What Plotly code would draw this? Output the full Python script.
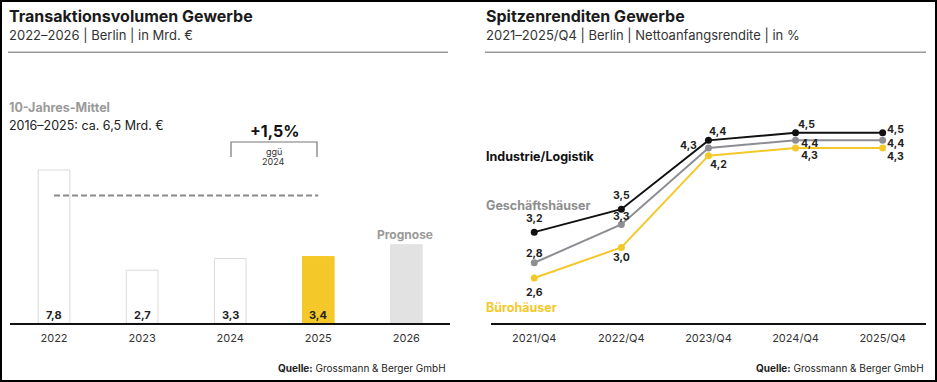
import plotly.graph_objects as go

W, H = 937, 382

# ---- Left chart data: Transaktionsvolumen Gewerbe (Mrd. €)
years = ["2022", "2023", "2024", "2025", "2026"]
volumes = [7.8, 2.7, 3.3, 3.4, 4.0]
volume_labels = ["7,8", "2,7", "3,3", "3,4", ""]
ten_year_avg = 6.5
avg_span = ["2022", "2025"]

# ---- Right chart data: Spitzenrenditen Gewerbe (%)
quarters = ["2021/Q4", "2022/Q4", "2023/Q4", "2024/Q4", "2025/Q4"]
industrie = [3.2, 3.5, 4.4, 4.5, 4.5]
geschaeft = [2.8, 3.3, 4.3, 4.4, 4.4]
buero = [2.6, 3.0, 4.2, 4.3, 4.3]
industrie_labels = ["3,2", "3,5", "4,4", "4,5", "4,5"]
geschaeft_labels = ["2,8", "3,3", "4,3", "4,4", "4,4"]
buero_labels = ["2,6", "3,0", "4,2", "4,3", "4,3"]

FONT = "Inter, Roboto, 'DejaVu Sans', sans-serif"
YELLOW = "#F5C82A"
GREY_LINE = "#8d8d94"
BLACK = "#111111"


def px(x):
    return x / W


def py(y):
    return 1 - y / H


fig = go.Figure()

# Bars
bar_fill = ["#ffffff", "#ffffff", "#ffffff", YELLOW, "#e3e2e2"]
bar_line = ["#dadada", "#dadada", "#dadada", YELLOW, "#e3e2e2"]
fig.add_trace(go.Bar(
    x=years, y=volumes, width=0.36,
    marker=dict(color=bar_fill, line=dict(color=bar_line, width=1)),
    xaxis="x", yaxis="y", hoverinfo="skip",
))
# 10-year average dashed line
fig.add_trace(go.Scatter(
    x=avg_span, y=[ten_year_avg, ten_year_avg], mode="lines",
    line=dict(color="#8a8a8a", width=2, dash="6px,3px"),
    xaxis="x", yaxis="y", hoverinfo="skip",
))

# Lines
series = [
    (buero, buero_labels, YELLOW),
    (geschaeft, geschaeft_labels, GREY_LINE),
    (industrie, industrie_labels, BLACK),
]
for vals, _, col in series:
    fig.add_trace(go.Scatter(
        x=quarters, y=vals, mode="lines+markers",
        line=dict(color=col, width=2),
        marker=dict(color=col, size=7),
        xaxis="x2", yaxis="y2", hoverinfo="skip",
    ))

ann = []
# bar value labels (category index positions)
for i, lab in enumerate(volume_labels):
    if lab:
        ann.append(dict(x=i, y=0, xref="x", yref="y", text=f"<b>{lab}</b>",
                        showarrow=False, yanchor="bottom", yshift=-1,
                        font=dict(size=11, color="#222")))

# line point label offsets (dx, dy) in pixels (dy positive = down)
offsets = {
    "ind": [(0, -14), (0, -14), (9, -9), (11, -8), (13, -3)],
    "ges": [(0, -9), (0, -8), (-20, -3), (14, 3), (13, 3)],
    "bue": [(0, 14), (0, 10), (10, 9), (14, 7), (13, 8)],
}
for key, vals, labs in [("ind", industrie, industrie_labels),
                        ("ges", geschaeft, geschaeft_labels),
                        ("bue", buero, buero_labels)]:
    for i, (v, lab, (dx, dy)) in enumerate(zip(vals, labs, offsets[key])):
        ann.append(dict(x=i, y=v, xref="x2", yref="y2", text=f"<b>{lab}</b>",
                        showarrow=False, xshift=dx, yshift=-dy,
                        font=dict(size=10.5, color="#222")))


def txt(x, y, text, size, color="#1a1a1a", xanchor="left"):
    ann.append(dict(x=px(x), y=py(y), xref="paper", yref="paper", text=text,
                    showarrow=False, xanchor=xanchor, yanchor="middle",
                    font=dict(size=size, color=color)))


# Titles
txt(7, 16, "<b>Transaktionsvolumen Gewerbe</b>", 16)
txt(7, 35, "2022–2026 | Berlin | in Mrd. €", 13, "#333")
txt(484, 16, "<b>Spitzenrenditen Gewerbe</b>", 16)
txt(484, 35, "2021–2025/Q4 | Berlin | Nettoanfangsrendite | in %", 13, "#333")

# left annotations
txt(7, 107, "<b>10-Jahres-Mittel</b>", 12.5, "#9a9a9a")
txt(7, 126, "2016–2025: ca. 6,5 Mrd. €", 12.5, "#222")
txt(274.5, 131, "<b>+1,5%</b>", 16, "#111", "center")
txt(273.5, 151.5, "ggü", 9, "#333", "center")
txt(273.5, 161, "2024", 9, "#333", "center")
txt(405, 234, "<b>Prognose</b>", 12, "#9a9a9a", "center")

# right series labels
txt(484, 156, "<b>Industrie/Logistik</b>", 12.5, "#111")
txt(484, 206, "<b>Geschäftshäuser</b>", 12.5, "#8e8e8e")
txt(484, 307, "<b>Bürohäuser</b>", 12.5, YELLOW)

# sources
txt(448, 368, "<b>Quelle:</b> Grossmann &amp; Berger GmbH", 10, "#222", "right")
txt(926, 368, "<b>Quelle:</b> Grossmann &amp; Berger GmbH", 10, "#222", "right")

shapes = [
    # title rules
    dict(type="line", xref="paper", yref="paper", x0=px(8), x1=px(448),
         y0=py(52.3), y1=py(52.3), line=dict(color="#9a9a9a", width=1.5)),
    dict(type="line", xref="paper", yref="paper", x0=px(485), x1=px(926),
         y0=py(52.3), y1=py(52.3), line=dict(color="#9a9a9a", width=1.5)),
    # bracket
    dict(type="path", xref="paper", yref="paper",
         path=f"M {px(231)},{py(157)} L {px(231)},{py(142)} L {px(317)},{py(142)} L {px(317)},{py(157)}",
         line=dict(color="#777", width=1.2)),
    # outer frame
    dict(type="rect", xref="paper", yref="paper", x0=px(1), x1=px(936),
         y0=py(381), y1=py(1), line=dict(color="#000", width=2)),
]

Y0 = 323.3
YTOP = 60
L_SCALE = 19.65
R_SCALE = 76.5
R_REF_V, R_REF_PX = 4.5, 132.7

axis_common = dict(type="category", range=[-0.5, 4.5], showline=True,
                   linecolor="#111", linewidth=2, ticks="", showgrid=False,
                   zeroline=False, fixedrange=True, ticklabelstandoff=3,
                   tickfont=dict(size=11, color="#333", family=FONT))

fig.update_layout(
    width=W, height=H, margin=dict(l=0, r=0, t=0, b=0),
    paper_bgcolor="white", plot_bgcolor="white", showlegend=False,
    font=dict(family=FONT),
    xaxis=dict(domain=[px(10), px(450.4)], anchor="y", **axis_common),
    yaxis=dict(domain=[py(Y0), py(YTOP)], range=[0, (Y0 - YTOP) / L_SCALE],
               visible=False, fixedrange=True),
    xaxis2=dict(domain=[px(490.7), px(926.2)], anchor="y2", **axis_common),
    yaxis2=dict(domain=[py(Y0), py(YTOP)],
                range=[R_REF_V - (Y0 - R_REF_PX) / R_SCALE,
                       R_REF_V + (R_REF_PX - YTOP) / R_SCALE],
                visible=False, fixedrange=True, anchor="x2"),
    annotations=ann, shapes=shapes,
)

fig.write_html("out.html", config={"displayModeBar": False, "staticPlot": True},
               post_script="document.body.style.margin='0';document.body.style.overflow='hidden';")
